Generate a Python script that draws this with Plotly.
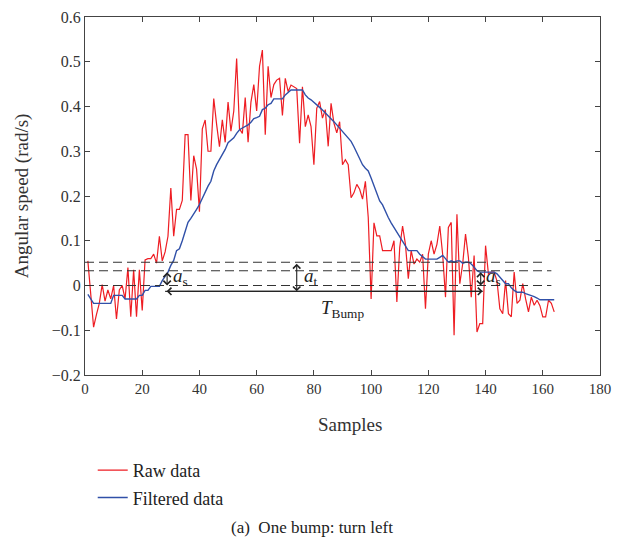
import plotly.graph_objects as go

# samples 1..164
samples = list(range(1, 165))

raw = [
    0.055, -0.02, -0.093, -0.065, -0.04, 0.002, -0.035, -0.01, -0.03, 0.0,
    -0.075, -0.01, 0.0, -0.03, 0.04, -0.07, 0.035, -0.07, 0.035, -0.056,
    0.057, 0.06, 0.06, 0.07, 0.05, 0.11, 0.055, 0.075, 0.11, 0.218,
    0.11, 0.17, 0.17, 0.19, 0.337, 0.337, 0.19, 0.29, 0.26, 0.165,
    0.35, 0.37, 0.30, 0.30, 0.418, 0.36, 0.31, 0.37, 0.32, 0.41,
    0.345, 0.39, 0.507, 0.35, 0.34, 0.42, 0.32, 0.41, 0.449, 0.39,
    0.49, 0.526, 0.337, 0.49, 0.42, 0.449, 0.459, 0.463, 0.38, 0.463,
    0.433, 0.448, 0.444, 0.44, 0.318, 0.444, 0.355, 0.381, 0.355, 0.27,
    0.396, 0.411, 0.374, 0.393, 0.311, 0.407, 0.363, 0.341, 0.366, 0.27,
    0.281, 0.27, 0.196, 0.207, 0.226, 0.215, 0.193, 0.233, 0.152, -0.03,
    0.14, 0.111, 0.111, 0.078, 0.078, 0.078, 0.078, 0.1, -0.037, 0.085,
    0.133, 0.092, 0.015, 0.078, 0.048, 0.059, 0.052, 0.07, -0.052, 0.07,
    0.1, 0.07, 0.092, 0.133, 0.07, -0.026, 0.13, 0.141, -0.111, 0.159,
    0.004, 0.048, 0.115, 0.063, -0.026, 0.067, -0.104, -0.085, -0.085, 0.089,
    0.026, 0.03, 0.03, 0.01, -0.052, -0.063, 0.011, -0.063, -0.07, 0.03,
    -0.04, -0.033, 0.004, -0.03, -0.059, -0.026, -0.044, -0.033, -0.045, -0.07,
    -0.07, -0.033, -0.04, -0.059,
]

filtered = [
    -0.02, -0.03, -0.04, -0.04, -0.04, -0.04, -0.04, -0.04, -0.04, -0.022,
    -0.022, -0.022, -0.022, -0.03, -0.03, -0.03, -0.03, -0.03, -0.022, -0.022,
    -0.011, -0.011, -0.002, -0.002, -0.002, -0.002, 0.011, 0.02, 0.03, 0.045,
    0.056, 0.078, 0.082, 0.1, 0.12, 0.141, 0.15, 0.159, 0.17, 0.181,
    0.196, 0.211, 0.222, 0.233, 0.256, 0.27, 0.281, 0.293, 0.304, 0.319,
    0.325, 0.33, 0.34, 0.348, 0.352, 0.356, 0.359, 0.365, 0.373, 0.375,
    0.378, 0.393, 0.396, 0.404, 0.407, 0.417, 0.417, 0.417, 0.417, 0.426,
    0.432, 0.437, 0.437, 0.437, 0.437, 0.437, 0.426, 0.419, 0.415, 0.41,
    0.404, 0.398, 0.392, 0.386, 0.38, 0.374, 0.366, 0.359, 0.352, 0.345,
    0.338, 0.33, 0.322, 0.31, 0.296, 0.284, 0.27, 0.262, 0.256, 0.24,
    0.222, 0.204, 0.189, 0.18, 0.165, 0.152, 0.14, 0.13, 0.12, 0.11,
    0.1, 0.09, 0.078, 0.078, 0.078, 0.078, 0.07, 0.065, 0.059, 0.059,
    0.059, 0.059, 0.059, 0.063, 0.067, 0.06, 0.052, 0.055, 0.052, 0.055,
    0.055, 0.05, 0.052, 0.052, 0.048, 0.041, 0.033, 0.03, 0.03, 0.03,
    0.03, 0.03, 0.03, 0.026, 0.018, 0.011, 0.004, 0.004, -0.005, -0.011,
    -0.015, -0.015, -0.015, -0.018, -0.02, -0.022, -0.025, -0.028, -0.032, -0.032,
    -0.032, -0.032, -0.032, -0.032,
]

# threshold levels and marker positions
levels = [0.052, 0.033, 0.0]
level_ends = [160.5, 163, 163]
bump_y = -0.013
bump_start, bump_end = 28, 139
as_left_x, at_x, as_right_x = 28.7, 74, 138.3

FONT = "Liberation Serif"
ink = "#333333"

fig = go.Figure()
fig.add_trace(go.Scatter(x=samples, y=raw, mode="lines", name="Raw data",
                         legendgroup="a",
                         line=dict(color="#ee1d23", width=1.2)))
fig.add_trace(go.Scatter(x=samples, y=filtered, mode="lines", name="Filtered data",
                         legendgroup="b",
                         line=dict(color="#3050a8", width=1.4)))

for lv, end in zip(levels, level_ends):
    fig.add_shape(type="line", x0=0, x1=end, y0=lv, y1=lv, xref="x", yref="y",
                  line=dict(color=ink, width=1.2, dash="9px,5px"))

fig.add_shape(type="line", x0=bump_start, x1=bump_end, y0=bump_y, y1=bump_y,
              line=dict(color=ink, width=1.2))


def double_arrow(x0, y0, x1, y1):
    fig.add_annotation(x=x1, y=y1, ax=x0, ay=y0, xref="x", yref="y",
                       axref="x", ayref="y", text="", showarrow=True,
                       arrowhead=4, startarrowhead=4, arrowside="end+start",
                       arrowsize=1.3, startarrowsize=1.3, arrowwidth=1.1,
                       arrowcolor="#222222", standoff=0, startstandoff=0)


double_arrow(as_left_x, levels[1], as_left_x, levels[2])
double_arrow(at_x, levels[0], at_x, bump_y)
double_arrow(as_right_x, levels[1], as_right_x, levels[2])
double_arrow(bump_start, bump_y, bump_end, bump_y)

label_font = dict(family=FONT, size=19, color="#222222")
fig.add_annotation(x=as_left_x + 1.2, y=0.018, text="<i>a</i><sub>s</sub>",
                   showarrow=False, xanchor="left", font=label_font)
fig.add_annotation(x=at_x + 2, y=0.018, text="<i>a</i><sub>t</sub>",
                   showarrow=False, xanchor="left", font=label_font)
fig.add_annotation(x=as_right_x + 1.2, y=0.018, text="<i>a</i><sub>s</sub>",
                   showarrow=False, xanchor="left", font=label_font)
fig.add_annotation(x=90, y=-0.052, text="<i>T</i><sub>Bump</sub>",
                   showarrow=False, font=label_font)

# axis titles and caption
title_font = dict(family=FONT, size=19, color="#333333")
fig.add_annotation(x=-0.122, y=0.5, xref="paper", yref="paper",
                   xanchor="center", yanchor="middle",
                   text="Angular speed (rad/s)", textangle=-90,
                   showarrow=False, font=title_font)
fig.add_annotation(x=0.514, y=-0.137, xref="paper", yref="paper",
                   xanchor="center", yanchor="middle",
                   text="Samples", showarrow=False, font=title_font)
fig.add_annotation(x=0.44, y=-0.427, xref="paper", yref="paper",
                   xanchor="center", yanchor="middle",
                   text="(a)  One bump: turn left", showarrow=False,
                   font=dict(family=FONT, size=17, color="#222222"))

axis_style = dict(showline=True, linecolor="#444444", linewidth=1.2,
                  mirror="ticks", ticks="inside", ticklen=5, tickcolor="#444444",
                  showgrid=False, zeroline=False, automargin=False,
                  ticklabeloverflow="allow")

fig.update_xaxes(range=[0, 180], dtick=20,
                 tickfont=dict(family=FONT, size=15, color="#333333"), **axis_style)
fig.update_yaxes(range=[-0.2, 0.6], dtick=0.1,
                 tickfont=dict(family=FONT, size=16, color="#333333"), **axis_style)

# page body adds an 8px margin on every side, so the figure is 16px smaller
fig.update_layout(
    width=604, height=531,
    margin=dict(l=77, r=12, t=9, b=164),
    plot_bgcolor="white", paper_bgcolor="white",
    showlegend=True,
    legend=dict(x=0.015, y=-0.215, xanchor="left", yanchor="top",
                tracegroupgap=1, bgcolor="rgba(0,0,0,0)",
                font=dict(family=FONT, size=18, color="#222222")),
)

fig.write_html("out.html")
